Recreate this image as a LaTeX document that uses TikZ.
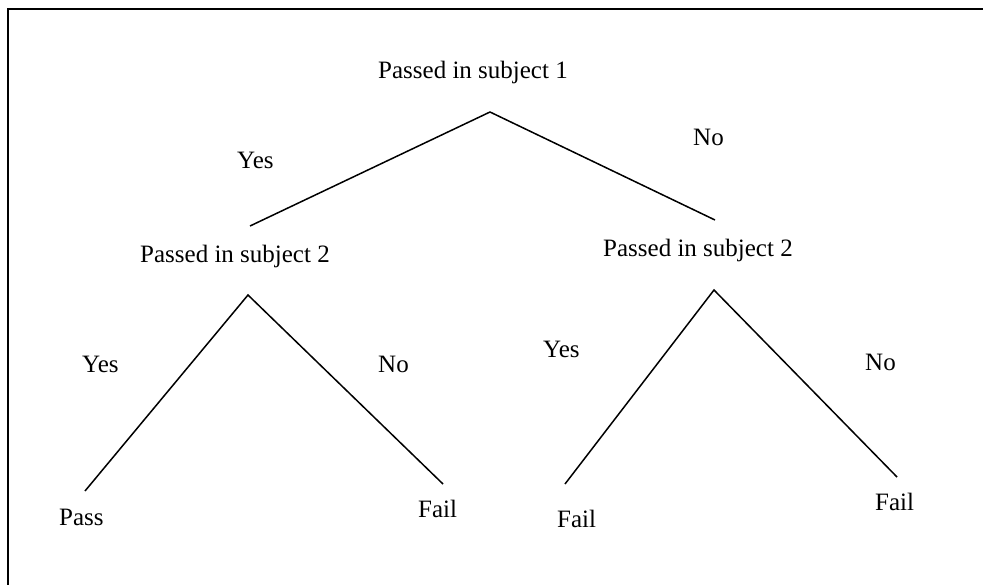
\documentclass[tikz,border=0pt]{standalone}
\usepackage{fontspec}
\setmainfont{Liberation Serif}
\begin{document}
\begin{tikzpicture}[x=1pt,y=-1pt,
  lbl/.style={anchor=base west,inner sep=0pt,font=\fontsize{25}{30}\selectfont},
  branch/.style={line width=1.5pt},
  frame/.style={line width=2.6pt}]
\useasboundingbox (0,0) rectangle (983,584);
% frame
\coordinate (fbl) at (8,585);
\coordinate (ftl) at (8,9);
\coordinate (ftr) at (983,9);
\draw[frame] (fbl) -- (ftl) -- (ftr);
% labels
\node[lbl] (root) at (378,78) {Passed in subject 1};
\node[lbl] (s2l) at (140,262) {Passed in subject 2};
\node[lbl] (s2r) at (603,256) {Passed in subject 2};
\node[lbl] (y1) at (237,168) {Yes};
\node[lbl] (n1) at (693,145) {No};
\node[lbl] (y2) at (82,372) {Yes};
\node[lbl] (n2) at (378,372) {No};
\node[lbl] (y3) at (543,357) {Yes};
\node[lbl] (n3) at (865,370) {No};
\node[lbl] (pass) at (59,525) {Pass};
\node[lbl] (f1) at (418,517) {Fail};
\node[lbl] (f2) at (557,527) {Fail};
\node[lbl] (f3) at (875,510) {Fail};
% branch points
\coordinate (a0) at (490,112);
\coordinate (a0l) at (250,226);
\coordinate (a0r) at (715,220);
\coordinate (a1) at (248,295);
\coordinate (a1l) at (85,491);
\coordinate (a1r) at (443,484);
\coordinate (a2) at (714,290);
\coordinate (a2l) at (565,484);
\coordinate (a2r) at (897,477);
\draw[branch] (a0l) -- (a0) -- (a0r);
\draw[branch] (a1l) -- (a1) -- (a1r);
\draw[branch] (a2l) -- (a2) -- (a2r);
\end{tikzpicture}
\end{document}
